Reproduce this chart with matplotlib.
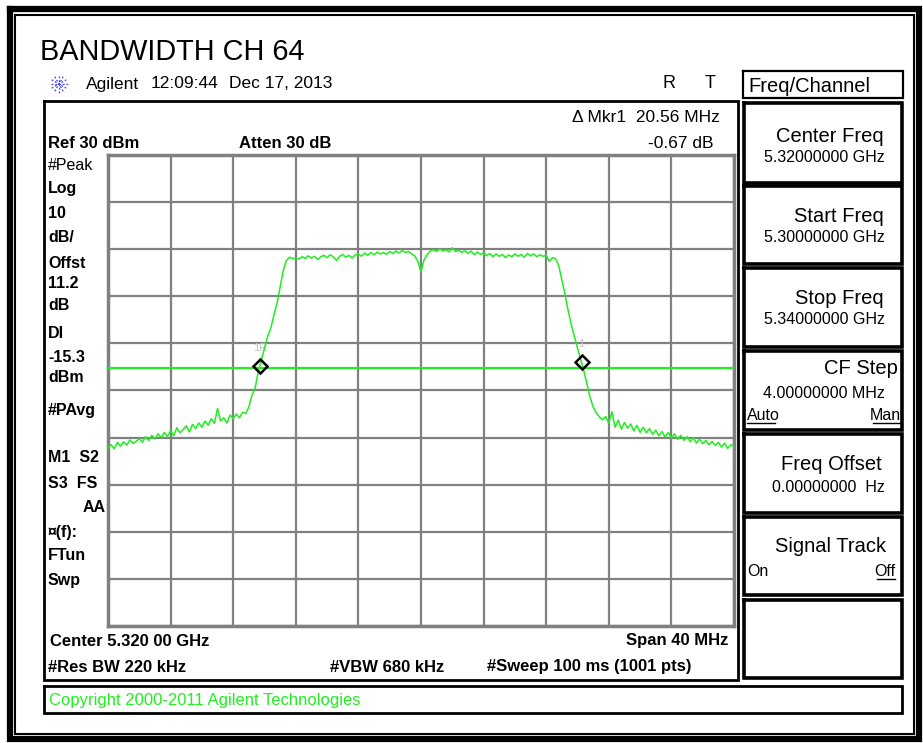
import numpy as np
import matplotlib
matplotlib.use("Agg")
import matplotlib.pyplot as plt

plt.rcParams['font.family'] = ['Liberation Sans', 'DejaVu Sans']

# ---------------- data ----------------
start_ghz = 5.300
stop_ghz = 5.340
ref_dbm = 30
db_per_div = 10
display_line_dbm = -15.3

# trace levels (dBm), every 0.2 MHz from 5.300 to 5.340 GHz
trace_dbm = [
    -32.2, -31.5, -32.4, -31.0, -31.8, -30.9, -31.6, -30.5, -31.2, -30.8,
    -30.2, -31.0, -29.8, -30.6, -29.5, -30.3, -29.2, -30.0, -28.9, -29.8,
    -28.5, -29.6, -27.9, -29.0, -28.3, -27.5, -28.8, -27.2, -28.1, -26.9,
    -27.8, -26.5, -27.4, -26.0, -27.0, -23.8, -26.5, -25.8, -26.9, -25.2,
    -26.0, -25.0, -25.8, -24.6, -24.9, -23.5, -21.0, -19.5, -16.0, -13.5,
    -11.0, -8.5, -6.8, -4.0, -1.5, 2.0, 5.5, 7.6, 8.3, 8.0,
    8.2, 7.9, 8.4, 8.0, 8.6, 8.1, 8.5, 7.8, 8.4, 8.7,
    8.2, 8.8, 8.4, 7.6, 8.5, 8.9, 8.3, 8.7, 8.1, 8.8,
    9.0, 8.5, 9.2, 8.7, 9.3, 8.8, 9.4, 9.0, 9.3, 8.9,
    9.5, 9.1, 9.6, 9.2, 9.7, 9.3, 9.5, 9.0, 8.6, 7.4,
    5.2, 7.8, 8.9, 9.6, 9.9, 9.5, 10.1, 9.6, 9.9, 9.4,
    10.3, 9.5, 9.8, 9.3, 9.7, 9.1, 9.6, 8.8, 9.4, 8.9,
    9.3, 8.6, 9.1, 8.4, 9.0, 8.5, 8.9, 8.2, 8.8, 8.4,
    9.0, 8.5, 8.9, 8.3, 9.1, 8.6, 9.0, 8.4, 8.8, 8.5,
    8.7, 7.4, 8.2, 8.0, 6.5, 3.5, 0.5, -3.0, -6.0, -8.5,
    -11.0, -13.3, -15.8, -18.5, -21.4, -23.5, -24.8, -25.6, -26.2, -25.5,
    -27.0, -24.5, -27.8, -26.3, -28.2, -26.8, -28.0, -27.1, -28.6, -27.4,
    -28.9, -27.8, -29.0, -28.1, -29.3, -28.4, -29.6, -28.7, -29.9, -28.9,
    -30.1, -29.2, -30.4, -29.5, -30.6, -29.8, -30.9, -30.0, -31.2, -30.3,
    -31.3, -30.6, -31.5, -30.8, -31.7, -31.0, -32.0, -31.2, -32.3, -31.5,
    -32.0,
]
trace_ghz = np.linspace(start_ghz, stop_ghz, len(trace_dbm))

marker_ghz = [5.30970, 5.33026]
marker_labels = ["1R", "1"]

left_labels = [("#Peak", False), ("Log", True), ("10", True), ("dB/", True),
               ("Offst", True), ("11.2", True), ("dB", True), ("DI", True),
               ("-15.3", True), ("dBm", True), ("#PAvg", True)]
left_label_y = [165, 189, 213, 238, 263, 284, 305, 334, 357, 378, 410]
left_labels2 = ["M1  S2", "S3  FS", "", "\u00a4(f):", "FTun", "Swp"]
left_label2_y = [458, 483, 507, 532, 555, 580]

softkeys = [("Center Freq", "5.32000000 GHz"),
            ("Start Freq", "5.30000000 GHz"),
            ("Stop Freq", "5.34000000 GHz"),
            ("CF Step", "4.00000000 MHz"),
            ("Freq Offset", "0.00000000  Hz"),
            ("Signal Track", ""),
            ("", "")]
softkey_y = [(103, 183), (186, 264), (268, 347), (351, 430),
             (434, 513), (517, 595), (600, 678)]
softkey_text_y = [(137, 157), (216, 237), (298, 319), (369, 394),
                  (465, 488), (547, 0), (0, 0)]
softkey_label_x = [884, 884, 884, 898, 882, 886, 884]

W, H = 923, 743
fig = plt.figure(figsize=(W / 100, H / 100), dpi=100)
fig.patch.set_facecolor("white")

# --------------- trace axes ---------------
px0, px1, py0, py1 = 108, 734, 155, 626
ax = fig.add_axes([px0 / W, 1 - py1 / H, (px1 - px0) / W, (py1 - py0) / H])
ax.set_xlim(start_ghz, stop_ghz)
ax.set_ylim(ref_dbm - 10 * db_per_div, ref_dbm)
ax.set_xticks(np.linspace(start_ghz, stop_ghz, 11))
ax.set_yticks(np.arange(ref_dbm - 10 * db_per_div, ref_dbm + 1, db_per_div))
ax.grid(True, color="#808080", lw=1.6)
ax.tick_params(length=0, labelbottom=False, labelleft=False)
for s in ax.spines.values():
    s.set_color("#808080")
    s.set_linewidth(2.5)
green = "#1fee1f"
ax.axhline(display_line_dbm, color=green, lw=1.6, zorder=3)
ax.plot(trace_ghz, trace_dbm, color=green, lw=1.1, zorder=4)
mk_lvl = np.interp(marker_ghz, trace_ghz, trace_dbm)
ax.plot(marker_ghz, mk_lvl, ls="none", marker="D", ms=7, mfc="none",
        mec="black", mew=1.8, zorder=5)
for g, l, lab in zip(marker_ghz, mk_lvl, marker_labels):
    ax.annotate(lab, (g, l), xytext=(0, 13), textcoords="offset points",
                ha="center", va="center", fontsize=8, color="#c0c0c0")

# --------------- overlay for frames and text ---------------
ov = fig.add_axes([0, 0, 1, 1], facecolor="none")
ov.set_xlim(0, W)
ov.set_ylim(H, 0)
ov.axis("off")


def rect(x0, y0, x1, y1, lw, color="black"):
    ov.plot([x0, x1, x1, x0, x0], [y0, y0, y1, y1, y0], color=color, lw=lw,
            solid_joinstyle="miter", solid_capstyle="projecting")


# outer frames
rect(9.5, 9, 918.5, 738.5, 4.5)
rect(14.5, 14.5, 913.5, 733.5, 1.5)
# main screen box
rect(44, 101, 738, 680, 2.0)
# copyright box
rect(44, 686, 902, 713, 2.0)
# softkey title
rect(743, 71, 903, 98, 1.6)
for (y0, y1) in softkey_y:
    rect(744, y0, 902, y1, 2.6)

# title & header
ov.text(40, 52, "BANDWIDTH CH 64", fontsize=20.8, ha="left", va="center")
# Agilent logo starburst
for ang in np.arange(0, 180, 30):
    dx, dy = 8.5 * np.cos(np.radians(ang)), 8.5 * np.sin(np.radians(ang))
    ov.plot([59 - dx, 59 + dx], [84 - dy, 84 + dy], color="#4040ff", lw=0.9,
            ls=(0, (1.5, 1.5)))
ov.text(86, 84, "Agilent", fontsize=12.5, ha="left", va="center")
ov.text(151, 84, "12:09:44", fontsize=12.5, ha="left", va="center")
ov.text(229, 84, "Dec 17, 2013", fontsize=12.5, ha="left", va="center")
ov.text(669, 84, "R", fontsize=13, ha="center", va="center")
ov.text(710, 84, "T", fontsize=13, ha="center", va="center")

ov.text(720, 117, "\u0394 Mkr1  20.56 MHz", fontsize=12.5, ha="right", va="center")
ov.text(713, 143, "-0.67 dB", fontsize=12.5, ha="right", va="center")
ov.text(48, 143, "Ref 30 dBm", fontsize=12, fontweight="bold", ha="left", va="center")
ov.text(239, 143, "Atten 30 dB", fontsize=12, fontweight="bold", ha="left", va="center")

for (t, b), y in zip(left_labels, left_label_y):
    ov.text(48, y, t, fontsize=11.5, fontweight="bold" if b else "normal",
            ha="left", va="center")
for t, y in zip(left_labels2, left_label2_y):
    ov.text(48, y, t, fontsize=11.5, fontweight="bold", ha="left", va="center")
ov.text(106, 507, "AA", fontsize=11.5, fontweight="bold", ha="right", va="center")

ov.text(50, 641, "Center 5.320 00 GHz", fontsize=12, fontweight="bold", ha="left", va="center")
ov.text(728, 641, "Span 40 MHz", fontsize=12, fontweight="bold", ha="right", va="center")
ov.text(48, 667, "#Res BW 220 kHz", fontsize=12, fontweight="bold", ha="left", va="center")
ov.text(330, 667, "#VBW 680 kHz", fontsize=12, fontweight="bold", ha="left", va="center")
ov.text(487, 667, "#Sweep 100 ms (1001 pts)", fontsize=12, fontweight="bold", ha="left", va="center")

ov.text(49, 700, "Copyright 2000-2011 Agilent Technologies", fontsize=12,
        color="#22ee22", ha="left", va="center")

# softkeys
ov.text(748, 86, "Freq/Channel", fontsize=14.5, ha="left", va="center")
for (lab, val), (ty, vy), lx in zip(softkeys, softkey_text_y, softkey_label_x):
    if lab:
        ov.text(lx, ty, lab, fontsize=14.5, ha="right", va="center")
    if val:
        ov.text(885, vy, val, fontsize=11.5, ha="right", va="center")
# CF Step Auto/Man
ov.text(747, 416, "Auto", fontsize=11.5, ha="left", va="center")
ov.plot([747, 775], [423, 423], color="black", lw=1)
ov.text(901, 416, "Man", fontsize=11.5, ha="right", va="center")
ov.plot([873, 901], [423, 423], color="black", lw=1)
# Signal Track On/Off
ov.text(747, 572, "On", fontsize=11.5, ha="left", va="center")
ov.text(895, 572, "Off", fontsize=11.5, ha="right", va="center")
ov.plot([877, 895], [579, 579], color="black", lw=1)

fig.savefig("out.png", dpi=100)
